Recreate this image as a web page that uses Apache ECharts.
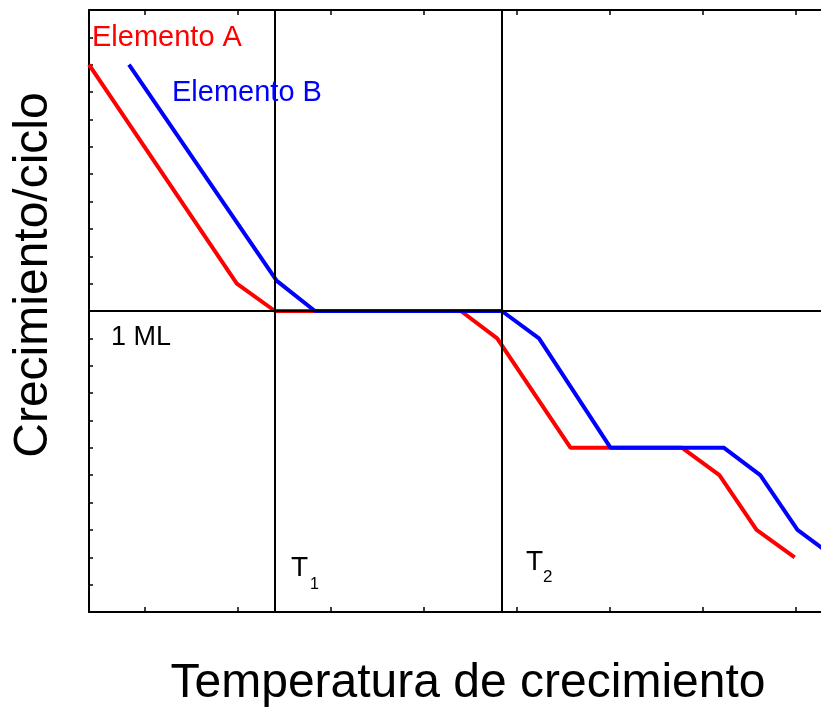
<!DOCTYPE html>
<html>
<head>
<meta charset="utf-8">
<script src="https://cdn.jsdelivr.net/npm/echarts@6/dist/echarts.min.js"></script>
<style>
html,body{margin:0;padding:0;overflow:hidden;background:#fff;}
#chart{width:870px;height:708px;}
</style>
</head>
<body>
<div id="chart"></div>
<script>
// Data (x in temperature units, y in growth-per-cycle units; 1 ML = 11)
var elementoA_x = [-0.60, 0.99, 1.40, 3.40, 3.79, 4.58, 5.78, 6.18, 6.58, 6.99];
var elementoA_y = [20, 12, 11, 11, 10, 6, 6, 5, 3, 2];
var elementoB_x = [-0.17, 1.42, 1.83, 3.84, 4.24, 5.01, 6.23, 6.62, 7.02, 7.42];
var elementoB_y = [20, 12.1, 11, 11, 10, 6, 6, 5, 3, 2];
var temperatureMarks = [1.40, 3.84];   // T1, T2
var monolayerLevel = 11;               // 1 ML
var xMin = -0.6, xMax = 7.8, yMin = 0, yMax = 22;

function pairs(xs, ys){ return xs.map(function(x,i){ return [x, ys[i]]; }); }

var chart = echarts.init(document.getElementById('chart'), null, {renderer:'canvas'});
var font = '"Liberation Sans", Arial, Helvetica, sans-serif';
var axisCommon = {
  type:'value', min:xMin, max:xMax, minInterval:1, maxInterval:1,
  axisLine:{show:true, onZero:false, lineStyle:{color:'#000', width:2}},
  axisTick:{show:true, inside:true, length:5, lineStyle:{color:'#000', width:1.5}},
  axisLabel:{show:false}, splitLine:{show:false}
};
var option = {
  animation:false,
  backgroundColor:'#fff',
  grid:{left:89, right:0, top:10, bottom:96, containLabel:false},
  xAxis:[
    Object.assign({position:'bottom'}, axisCommon),
    Object.assign({position:'top'}, axisCommon)
  ],
  yAxis:[{
    type:'value', min:yMin, max:yMax, interval:1, position:'left',
    axisLine:{show:true, onZero:false, lineStyle:{color:'#000', width:2}},
    axisTick:{show:true, inside:true, length:4, lineStyle:{color:'#000', width:1.5}},
    axisLabel:{show:false}, splitLine:{show:false}
  }],
  series:[
    {
      name:'Elemento A', type:'line', z:2, symbol:'none',
      data:pairs(elementoA_x, elementoA_y),
      lineStyle:{color:'#ff0000', width:4}, itemStyle:{color:'#ff0000'},
      markLine:{
        silent:true, symbol:['none','none'], animation:false,
        label:{show:false},
        lineStyle:{color:'#000', width:2, type:'solid'},
        emphasis:{disabled:true},
        data:[
          {xAxis:temperatureMarks[0]},
          {xAxis:temperatureMarks[1]},
          {yAxis:monolayerLevel}
        ]
      }
    },
    {
      name:'Elemento B', type:'line', z:4, symbol:'none',
      data:pairs(elementoB_x, elementoB_y),
      lineStyle:{color:'#0000ff', width:4}, itemStyle:{color:'#0000ff'}
    }
  ],
  graphic:[
    {type:'text', left:92, top:23, z:10, style:{text:'Elemento A', fill:'#ff0000', font:'29px '+font}},
    {type:'text', left:172, top:78, z:10, style:{text:'Elemento B', fill:'#0000ff', font:'29px '+font}},
    {type:'text', left:111, top:324, z:10, style:{text:'1 ML', fill:'#000', font:'27px '+font}},
    {type:'text', left:291, top:554, z:10, style:{text:'T', fill:'#000', font:'28px '+font}},
    {type:'text', left:310, top:577, z:10, style:{text:'1', fill:'#000', font:'16px '+font}},
    {type:'text', left:526, top:548, z:10, style:{text:'T', fill:'#000', font:'28px '+font}},
    {type:'text', left:543, top:569, z:10, style:{text:'2', fill:'#000', font:'17px '+font}},
    {type:'text', x:468, y:684, z:10, style:{text:'Temperatura de crecimiento', fill:'#000', font:'48px '+font, align:'center', verticalAlign:'middle'}},
    {type:'text', x:34, y:275, rotation:Math.PI/2, z:10, style:{text:'Crecimiento/ciclo', fill:'#000', font:'48px '+font, align:'center', verticalAlign:'middle'}}
  ]
};
chart.setOption(option);
</script>
</body>
</html>
